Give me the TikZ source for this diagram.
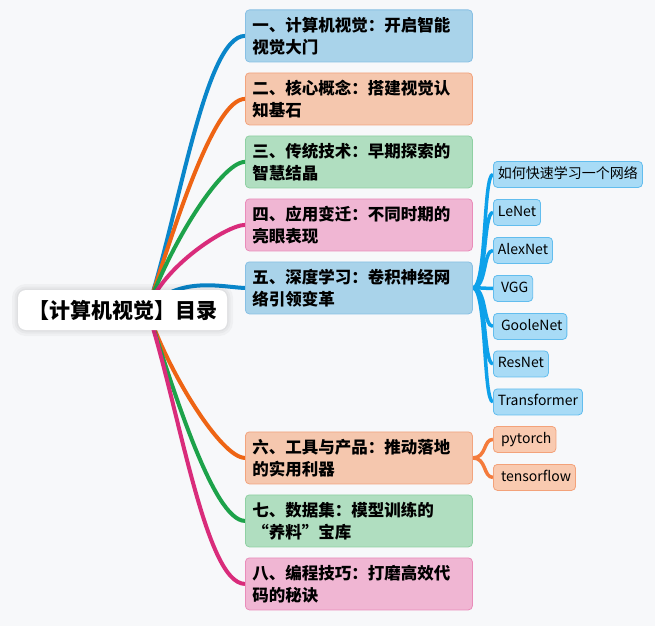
\documentclass[tikz,border=0pt]{standalone}
\usepackage{fontspec}
\setmainfont{Noto Sans CJK SC}
\usetikzlibrary{positioning}

\definecolor{paper}{HTML}{F7F8FA}
\definecolor{brBlue}{HTML}{0A86CA}
\definecolor{brOrange}{HTML}{EE6414}
\definecolor{brGreen}{HTML}{1DA24A}
\definecolor{brPink}{HTML}{D92C7B}
\definecolor{boxBlue}{HTML}{A9D3EA}
\definecolor{rimBlue}{HTML}{88C0E4}
\definecolor{boxOrange}{HTML}{F5C7AE}
\definecolor{rimOrange}{HTML}{F2A47E}
\definecolor{boxGreen}{HTML}{B0DEC0}
\definecolor{rimGreen}{HTML}{8FD0A3}
\definecolor{boxPink}{HTML}{F0B6D3}
\definecolor{rimPink}{HTML}{E98CBA}
\definecolor{twigBlue}{HTML}{0EA1EA}
\definecolor{leafBlue}{HTML}{A8DBF6}
\definecolor{leafRimBlue}{HTML}{62BDEE}
\definecolor{twigOrange}{HTML}{F47B3C}
\definecolor{leafOrange}{HTML}{F9CAB0}
\definecolor{leafRimOrange}{HTML}{F3A27A}

\pgfdeclarelayer{back}
\pgfdeclarelayer{wires}
\pgfsetlayers{back,wires,main}

\tikzset{
  rootbox/.style={fill=white, rounded corners=8pt, minimum width=209pt, minimum height=40pt,
    inner sep=0pt, font=\fontsize{21}{24}\selectfont\bfseries,
    preaction={draw=black, draw opacity=.03, line width=12pt},
    preaction={draw=black, draw opacity=.03, line width=7pt},
    preaction={draw=black, draw opacity=.03, line width=3pt}},
  topic/.style={draw, rounded corners=4pt, line width=.8pt, text width=213pt, inner xsep=7pt,
    inner ysep=0pt, minimum height=52pt, align=left, anchor=north west,
    font=\fontsize{16.5}{22}\selectfont\bfseries},
  topicblue/.style={topic, fill=boxBlue, draw=rimBlue},
  topicorange/.style={topic, fill=boxOrange, draw=rimOrange},
  topicgreen/.style={topic, fill=boxGreen, draw=rimGreen},
  topicpink/.style={topic, fill=boxPink, draw=rimPink},
  leaf/.style={draw, rounded corners=4pt, line width=.8pt, inner xsep=4.5pt, inner ysep=0pt,
    minimum height=26pt, text height=10.5pt, text depth=3pt, anchor=north west,
    font=\fontsize{14}{17}\selectfont},
  leafblue/.style={leaf, fill=leafBlue, draw=leafRimBlue},
  leaforange/.style={leaf, fill=leafOrange, draw=leafRimOrange},
  branch/.style={draw=#1, line width=4pt},
  twig/.style={draw=#1, line width=3.5pt},
  riseto/.style={out=72, in=180, out looseness=.9, in looseness=.35},
  dropto/.style={out=-72, in=180, out looseness=.9, in looseness=.35},
  flatto/.style={out=50, in=180, out looseness=1.2, in looseness=.5},
  forkto/.style={out=0, in=180, out distance=14pt, in distance=10pt}
}

\begin{document}
\begin{tikzpicture}[x=1pt, y=1pt]
\begin{pgfonlayer}{back}
  \fill[paper] (0,0) rectangle (655,-626);
\end{pgfonlayer}
\useasboundingbox (0,0) rectangle (655,-626);

\node[rootbox] (root) at (122.5,-310) {【计算机视觉】目录};
\coordinate (hub) at ([xshift=25pt]root.center);

\node[topicblue] (t1) at (245,-9.5) {一、计算机视觉：开启智能\\视觉大门};
\node[topicorange] (t2) at (245,-72.5) {二、核心概念：搭建视觉认\\知基石};
\node[topicgreen] (t3) at (245,-135.5) {三、传统技术：早期探索的\\智慧结晶};
\node[topicpink] (t4) at (245,-198.5) {四、应用变迁：不同时期的\\亮眼表现};
\node[topicblue] (t5) at (245,-261.5) {五、深度学习：卷积神经网\\络引领变革};
\node[topicorange] (t6) at (245,-431.5) {六、工具与产品：推动落地\\的实用利器};
\node[topicgreen] (t7) at (245,-494.5) {七、数据集：模型训练的\\“养料”宝库};
\node[topicpink] (t8) at (245,-557.5) {八、编程技巧：打磨高效代\\码的秘诀};

\node[leafblue] (n1) at (493,-161) {如何快速学习一个网络};
\node[leafblue] (n2) at (493,-199) {LeNet};
\node[leafblue] (n3) at (493,-237) {AlexNet};
\node[leafblue] (n4) at (493,-275) {\ VGG};
\node[leafblue] (n5) at (493,-313) {\ GooleNet};
\node[leafblue] (n6) at (493,-350.5) {ResNet};
\node[leafblue] (n7) at (493,-388.5) {Transformer};

\node[leaforange] (f1) at (493,-426) {\ pytorch};
\node[leaforange] (f2) at (493,-464) {\ tensorflow};

\begin{pgfonlayer}{wires}
  \draw[branch=brBlue] (hub) to[riseto] (t1.west);
  \draw[branch=brOrange] (hub) to[riseto] (t2.west);
  \draw[branch=brGreen] (hub) to[riseto] (t3.west);
  \draw[branch=brPink] (hub) to[riseto] (t4.west);
  \draw[branch=brBlue] (hub) to[flatto] (t5.west);
  \draw[branch=brOrange] (hub) to[dropto] (t6.west);
  \draw[branch=brGreen] (hub) to[dropto] (t7.west);
  \draw[branch=brPink] (hub) to[dropto] (t8.west);
  \foreach \n in {n1,n2,n3,n4,n5,n6,n7}
    \draw[twig=twigBlue] (t5.east) to[forkto] (\n.west);
  \foreach \n in {f1,f2}
    \draw[twig=twigOrange] (t6.east) to[forkto] (\n.west);
\end{pgfonlayer}
\end{tikzpicture}
\end{document}
